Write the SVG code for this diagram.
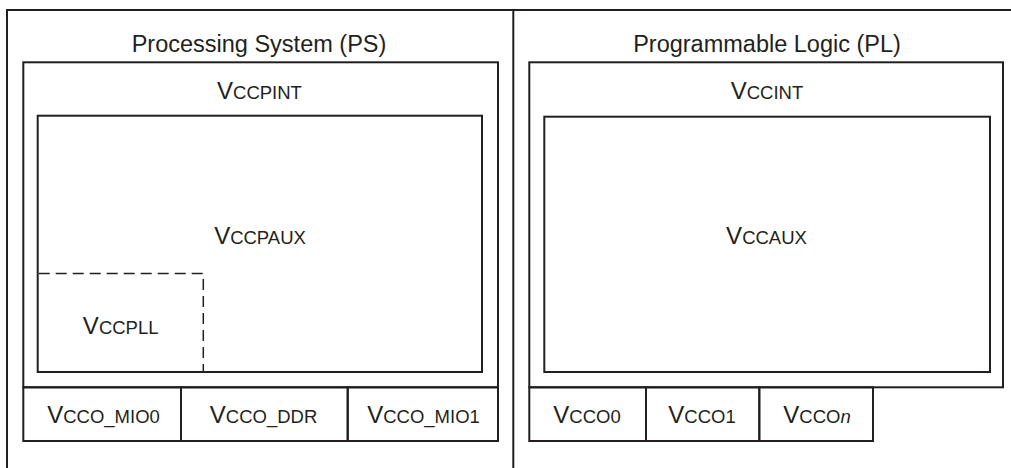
<svg xmlns="http://www.w3.org/2000/svg" width="1011" height="468" viewBox="0 0 1011 468">
<style>
.ln{fill:none;stroke:#231f20;stroke-width:2}
.dash{fill:none;stroke:#231f20;stroke-width:1.5;stroke-dasharray:11 6}
text{font-family:"Liberation Sans",Arial,sans-serif;fill:#231f20;text-anchor:middle}
.t{font-size:23.5px}
.v{font-size:24px}
.s{font-size:18.5px}
</style>
<rect width="1011" height="468" fill="#ffffff"/>
<g id="frame">
<path class="ln" d="M7,468 V10 H1011"/>
<path class="ln" d="M513.3,10 V468"/>
</g>
<g id="ps">
<text class="t" x="259" y="52">Processing System (PS)</text>
</g>
<g id="pl">
<text class="t" x="767" y="52">Programmable Logic (PL)</text>
</g>
<g id="vccpint">
<rect class="ln" x="23.3" y="62.3" width="474.7" height="325"/>
<text x="259.5" y="99"><tspan class="v">V</tspan><tspan class="s">CCPINT</tspan></text>
</g>
<g id="vccpaux">
<rect class="ln" x="37.7" y="115.7" width="444.3" height="256.3"/>
<text x="260" y="244"><tspan class="v">V</tspan><tspan class="s">CCPAUX</tspan></text>
</g>
<g id="vccpll">
<path class="dash" d="M38.7,273.5 H203.3 M203.3,279 V371"/>
<text x="120.7" y="334"><tspan class="v">V</tspan><tspan class="s">CCPLL</tspan></text>
</g>
<g id="vcco_mio0">
<rect class="ln" x="23.3" y="387.3" width="157.7" height="53.7"/>
<text x="103.5" y="422.5"><tspan class="v">V</tspan><tspan class="s">CCO_MIO0</tspan></text>
</g>
<g id="vcco_ddr">
<rect class="ln" x="181" y="387.3" width="166.7" height="53.7"/>
<text x="263.5" y="422.5"><tspan class="v">V</tspan><tspan class="s">CCO_DDR</tspan></text>
</g>
<g id="vcco_mio1">
<rect class="ln" x="347.7" y="387.3" width="150.3" height="53.7"/>
<text x="423.5" y="422.5"><tspan class="v">V</tspan><tspan class="s">CCO_MIO1</tspan></text>
</g>
<g id="vccint">
<rect class="ln" x="529.3" y="62.3" width="473.7" height="325"/>
<text x="767" y="99"><tspan class="v">V</tspan><tspan class="s">CCINT</tspan></text>
</g>
<g id="vccaux">
<rect class="ln" x="544.3" y="116.7" width="445.7" height="255.3"/>
<text x="766.5" y="244"><tspan class="v">V</tspan><tspan class="s">CCAUX</tspan></text>
</g>
<g id="vcco0">
<rect class="ln" x="529.3" y="387.3" width="116.7" height="53.7"/>
<text x="587" y="423"><tspan class="v">V</tspan><tspan class="s">CCO0</tspan></text>
</g>
<g id="vcco1">
<rect class="ln" x="646" y="387.3" width="113.3" height="53.7"/>
<text x="702" y="423"><tspan class="v">V</tspan><tspan class="s">CCO1</tspan></text>
</g>
<g id="vccon">
<rect class="ln" x="759.3" y="387.3" width="113.7" height="53.7"/>
<text x="817" y="423"><tspan class="v">V</tspan><tspan class="s">CCO</tspan><tspan class="s" font-style="italic">n</tspan></text>
</g>
<g id="connectors"/>
</svg>
